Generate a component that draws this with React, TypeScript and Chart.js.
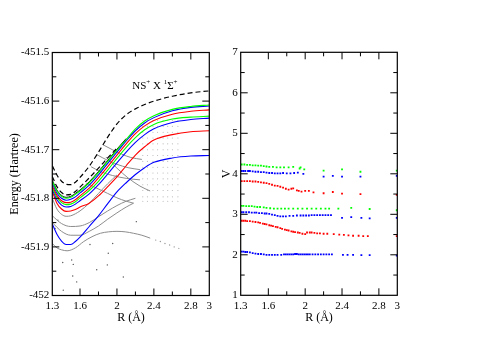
import React, { useEffect, useRef } from "react";
import { Chart, registerables } from "chart.js";
Chart.register(...registerables);

const W = 478;
const H = 338;
const FONT = "'Liberation Serif', 'Times New Roman', serif";

// ---------- Left panel: potential energy curves ----------
const R_GRID = [1.3, 1.35, 1.4, 1.45, 1.5, 1.55, 1.6, 1.7, 1.8, 1.9, 2.0, 2.1, 2.2, 2.3, 2.4, 2.6, 2.8, 3.0];
const ionUpper = [-451.733, -451.752, -451.765, -451.771, -451.772, -451.767, -451.757, -451.734, -451.705, -451.674, -451.647, -451.628, -451.616, -451.607, -451.600, -451.590, -451.583, -451.579];
const ionLower = [-451.755, -451.776, -451.788, -451.793, -451.792, -451.786, -451.777, -451.758, -451.738, -451.717, -451.697];
const blackSolid = [-451.763, -451.783, -451.794, -451.798, -451.796, -451.790, -451.783, -451.766, -451.745, -451.722, -451.699, -451.677];
const green1 = [-451.765, -451.785, -451.796, -451.800, -451.798, -451.792, -451.785, -451.768, -451.747, -451.724, -451.701, -451.679, -451.657, -451.641, -451.630, -451.617, -451.611, -451.608];
const blue1 = [-451.769, -451.789, -451.800, -451.804, -451.802, -451.797, -451.789, -451.773, -451.752, -451.728, -451.705, -451.682, -451.661, -451.645, -451.634, -451.620, -451.613, -451.610];
const red1 = [-451.774, -451.794, -451.805, -451.809, -451.808, -451.803, -451.795, -451.779, -451.758, -451.735, -451.711, -451.688, -451.667, -451.651, -451.640, -451.627, -451.621, -451.618];
const green2 = [-451.778, -451.798, -451.809, -451.813, -451.812, -451.807, -451.799, -451.784, -451.765, -451.742, -451.718, -451.695, -451.675, -451.659, -451.648, -451.637, -451.633, -451.631];
const blue2 = [-451.782, -451.803, -451.814, -451.818, -451.817, -451.812, -451.805, -451.791, -451.772, -451.750, -451.727, -451.705, -451.685, -451.669, -451.657, -451.644, -451.638, -451.635];
const red2 = [-451.786, -451.810, -451.822, -451.827, -451.826, -451.823, -451.818, -451.810, -451.795, -451.776, -451.756, -451.733, -451.711, -451.694, -451.680, -451.669, -451.663, -451.661];
const blue3 = [-451.853, -451.874, -451.888, -451.895, -451.895, -451.889, -451.880, -451.858, -451.836, -451.811, -451.787, -451.768, -451.751, -451.737, -451.726, -451.717, -451.713, -451.712];

const grayLow = [[1.3, -451.893], [1.35, -451.902], [1.4, -451.906], [1.46, -451.908], [1.55, -451.902], [1.64, -451.889], [1.73, -451.879], [1.82, -451.872], [1.91, -451.869], [2.0, -451.868], [2.09, -451.869], [2.18, -451.872], [2.27, -451.876], [2.36, -451.882]];
const grayLowTail = [[2.42, -451.886], [2.47, -451.889], [2.52, -451.893], [2.57, -451.896], [2.62, -451.900], [2.67, -451.903]];
const grayMidA = [[1.3, -451.836], [1.4, -451.852], [1.5, -451.858], [1.6, -451.857], [1.7, -451.850], [1.8, -451.838], [1.9, -451.826], [2.0, -451.815], [2.1, -451.806], [2.2, -451.800]];
const grayMidB = [[1.3, -451.850], [1.4, -451.868], [1.5, -451.876], [1.6, -451.876], [1.7, -451.868], [1.8, -451.857], [1.9, -451.843], [2.0, -451.830], [2.1, -451.818], [2.18, -451.810]];
const grayC = [[1.3, -451.800], [1.35, -451.822], [1.4, -451.833], [1.45, -451.837], [1.5, -451.836], [1.6, -451.826], [1.7, -451.810], [1.8, -451.790], [1.9, -451.770], [2.0, -451.752]];
const grayCross1 = [[1.67, -451.769], [1.78, -451.779], [1.9, -451.790], [2.0, -451.799], [2.1, -451.806], [2.18, -451.810]];
const grayCross2 = [[1.72, -451.735], [1.82, -451.745], [1.95, -451.753], [2.1, -451.759], [2.25, -451.762]];
const grayCross3 = [[1.78, -451.710], [1.9, -451.722], [2.0, -451.730], [2.12, -451.737], [2.25, -451.741]];
const grayCross4 = [[1.85, -451.690], [1.95, -451.700], [2.05, -451.709], [2.15, -451.716], [2.27, -451.720]];
const grayCross5 = [[1.88, -451.715], [2.0, -451.738], [2.12, -451.758], [2.25, -451.775], [2.36, -451.785]];
const DOT_R = [2.28, 2.33, 2.39, 2.44, 2.5, 2.55, 2.6, 2.66];
const DOT_E = [-451.640, -451.652, -451.664, -451.676, -451.688, -451.700, -451.712, -451.724, -451.736, -451.748, -451.760, -451.772, -451.784, -451.797, -451.806];
const scatterR = [1.413, 1.51, 1.527, 1.781, 1.906, 1.896, 1.954, 2.069, 2.21, 1.564, 1.419, 1.521, 1.708, 1.33, 1.36];
const scatterE = [-451.932, -451.927, -451.936, -451.947, -451.913, -451.937, -451.893, -451.962, -451.848, -451.972, -451.989, -451.960, -451.895, -451.862, -451.845];

const X_TICKS = [1.3, 1.6, 2.0, 2.4, 2.8, 3.0];
const X_LABELS = ["1.3", "1.6", "2", "2.4", "2.8", "3"];
const X_MAJOR = [1.6, 2.0, 2.4, 2.8];
const X_MINOR = [1.8, 2.2, 2.6];
const E_TICKS = [-452, -451.9, -451.8, -451.7, -451.6, -451.5];
const E_LABELS = ["-452", "-451.9", "-451.8", "-451.7", "-451.6", "-451.5"];
const E_MAJOR = [-451.9, -451.8, -451.7, -451.6];
const E_MINOR = [-451.95, -451.85, -451.75, -451.65, -451.55];
const ANNOT = { r: 2.165, e: -451.5745 };

// ---------- Right panel: V ----------
const vBlue1 = [[1.311, 2.08], [1.33, 2.08], [1.35, 2.07], [1.37, 2.07], [1.4, 2.06], [1.43, 2.04], [1.46, 2.03], [1.49, 2.02], [1.52, 2.02], [1.55, 2.01], [1.58, 2.0], [1.61, 2.0], [1.64, 2.0], [1.67, 2.0], [1.7, 2.0], [1.74, 2.0], [1.77, 2.01], [1.79, 2.01], [1.81, 2.01], [1.83, 2.01], [1.85, 2.01], [1.87, 2.01], [1.89, 2.02], [1.91, 2.02], [1.93, 2.01], [1.95, 2.01], [1.97, 2.01], [1.99, 2.01], [2.01, 2.01], [2.03, 2.01], [2.05, 2.01], [2.08, 2.01], [2.11, 2.01], [2.14, 2.01], [2.17, 2.01], [2.2, 2.01], [2.23, 2.01], [2.26, 2.01], [2.29, 2.01], [2.41, 2.0], [2.46, 2.0], [2.52, 2.0], [2.61, 1.99], [2.7, 1.99], [2.994, 1.98]];
const vRed1 = [[1.311, 2.84], [1.33, 2.84], [1.35, 2.84], [1.37, 2.83], [1.4, 2.83], [1.43, 2.82], [1.46, 2.81], [1.49, 2.8], [1.51, 2.79], [1.54, 2.77], [1.56, 2.76], [1.58, 2.75], [1.61, 2.73], [1.63, 2.72], [1.65, 2.71], [1.68, 2.69], [1.7, 2.68], [1.73, 2.66], [1.75, 2.64], [1.78, 2.62], [1.8, 2.61], [1.82, 2.6], [1.85, 2.58], [1.87, 2.57], [1.89, 2.56], [1.92, 2.55], [1.94, 2.54], [1.97, 2.52], [2.0, 2.51], [2.02, 2.55], [2.05, 2.55], [2.07, 2.55], [2.1, 2.54], [2.13, 2.53], [2.16, 2.53], [2.2, 2.52], [2.24, 2.52], [2.31, 2.51], [2.37, 2.5], [2.42, 2.49], [2.47, 2.48], [2.52, 2.47], [2.58, 2.47], [2.63, 2.46], [2.68, 2.46], [2.994, 2.46]];
const vBlue2 = [[1.311, 3.05], [1.33, 3.05], [1.36, 3.05], [1.39, 3.05], [1.42, 3.04], [1.45, 3.04], [1.47, 3.04], [1.5, 3.03], [1.53, 3.03], [1.56, 3.02], [1.58, 3.02], [1.61, 3.01], [1.64, 2.99], [1.67, 2.98], [1.7, 2.96], [1.73, 2.95], [1.76, 2.95], [1.79, 2.95], [1.83, 2.96], [1.87, 2.96], [1.91, 2.97], [1.95, 2.97], [1.98, 2.97], [2.01, 2.97], [2.04, 2.97], [2.07, 2.98], [2.1, 2.98], [2.13, 2.98], [2.16, 2.98], [2.19, 2.98], [2.22, 2.98], [2.25, 2.98], [2.28, 2.98], [2.4, 2.91], [2.5, 2.93], [2.61, 2.91], [2.7, 2.9], [2.994, 2.91]];
const vGreen1 = [[1.311, 3.21], [1.33, 3.21], [1.36, 3.2], [1.39, 3.2], [1.42, 3.2], [1.45, 3.19], [1.48, 3.18], [1.51, 3.18], [1.55, 3.17], [1.58, 3.16], [1.62, 3.15], [1.66, 3.14], [1.7, 3.14], [1.74, 3.14], [1.78, 3.14], [1.82, 3.14], [1.87, 3.14], [1.92, 3.14], [1.97, 3.14], [2.02, 3.14], [2.07, 3.14], [2.12, 3.14], [2.17, 3.14], [2.22, 3.14], [2.26, 3.14], [2.36, 3.14], [2.5, 3.16], [2.7, 3.13], [2.994, 3.1]];
const vRed2 = [[1.311, 3.82], [1.34, 3.82], [1.37, 3.82], [1.4, 3.82], [1.43, 3.81], [1.46, 3.81], [1.49, 3.8], [1.52, 3.79], [1.55, 3.78], [1.58, 3.77], [1.61, 3.75], [1.64, 3.73], [1.67, 3.71], [1.7, 3.7], [1.73, 3.68], [1.76, 3.66], [1.79, 3.63], [1.82, 3.61], [1.85, 3.63], [1.87, 3.64], [1.91, 3.59], [1.93, 3.58], [1.96, 3.56], [2.0, 3.58], [2.04, 3.58], [2.09, 3.54], [2.2, 3.52], [2.3, 3.55], [2.4, 3.51], [2.6, 3.5], [2.994, 3.48]];
const vBlue3 = [[1.311, 4.07], [1.33, 4.07], [1.35, 4.07], [1.38, 4.07], [1.4, 4.07], [1.43, 4.06], [1.46, 4.05], [1.49, 4.05], [1.52, 4.04], [1.55, 4.04], [1.58, 4.03], [1.61, 4.02], [1.64, 4.02], [1.67, 4.01], [1.7, 4.01], [1.73, 4.01], [1.76, 4.02], [1.8, 4.01], [1.84, 4.01], [1.88, 4.02], [1.92, 4.03], [1.98, 4.0], [2.2, 3.93], [2.3, 3.95], [2.4, 3.93], [2.6, 3.93], [2.994, 3.95]];
const vGreen2 = [[1.311, 4.23], [1.34, 4.23], [1.37, 4.22], [1.4, 4.22], [1.43, 4.21], [1.46, 4.21], [1.49, 4.2], [1.52, 4.2], [1.55, 4.19], [1.58, 4.18], [1.61, 4.17], [1.65, 4.17], [1.69, 4.16], [1.73, 4.16], [1.77, 4.16], [1.82, 4.16], [1.87, 4.17], [1.94, 4.13], [1.95, 4.16], [1.99, 4.11], [2.2, 4.08], [2.4, 4.11], [2.6, 4.05], [2.994, 4.08]];

const V_TICKS = [1, 2, 3, 4, 5, 6, 7];
const V_LABELS = ["1", "2", "3", "4", "5", "6", "7"];
const V_MAJOR = [2, 3, 4, 5, 6];
const V_MINOR = [1.5, 2.5, 3.5, 4.5, 5.5, 6.5];

const GREEN = "#00ff00";
const BLUE = "#0000ff";
const RED = "#ff0000";
const GRAY = "#8c8c8c";

type Run = [string, number, number];
type TextSpec = { x: number; y: number; rot?: number; runs: Run[]; data?: boolean };

function drawText(ctx: CanvasRenderingContext2D, chart: any, t: TextSpec) {
  let x = t.x;
  let y = t.y;
  if (t.data) {
    x = chart.scales.x.getPixelForValue(t.x);
    y = chart.scales.y.getPixelForValue(t.y);
  }
  ctx.save();
  ctx.translate(x, y);
  if (t.rot) ctx.rotate(t.rot);
  ctx.fillStyle = "#000";
  ctx.textBaseline = "alphabetic";
  ctx.textAlign = "left";
  let total = 0;
  for (const [s, size] of t.runs) {
    ctx.font = `${size}px ${FONT}`;
    total += ctx.measureText(s).width;
  }
  let cx = t.data ? 0 : -total / 2;
  for (const [s, size, dy] of t.runs) {
    ctx.font = `${size}px ${FONT}`;
    ctx.fillText(s, cx, dy);
    cx += ctx.measureText(s).width;
  }
  ctx.restore();
}

const framePlugin = {
  id: "frame",
  afterDraw(chart: any, _args: any, o: any) {
    const { ctx, chartArea: a } = chart;
    const xs = chart.scales.x;
    const ys = chart.scales.y;
    ctx.save();
    ctx.strokeStyle = "#000";
    ctx.lineWidth = 1.2;
    ctx.strokeRect(a.left, a.top, a.right - a.left, a.bottom - a.top);
    ctx.lineWidth = 1;
    ctx.beginPath();
    const xt = (vals: number[], len: number) =>
      vals.forEach((v) => {
        const p = xs.getPixelForValue(v);
        ctx.moveTo(p, a.bottom);
        ctx.lineTo(p, a.bottom - len);
        ctx.moveTo(p, a.top);
        ctx.lineTo(p, a.top + len);
      });
    const yt = (vals: number[], len: number) =>
      vals.forEach((v) => {
        const p = ys.getPixelForValue(v);
        ctx.moveTo(a.left, p);
        ctx.lineTo(a.left + len, p);
        ctx.moveTo(a.right, p);
        ctx.lineTo(a.right - len, p);
      });
    xt(o.xMajor, 7);
    xt(o.xMinor, 4);
    yt(o.yMajor, 7);
    yt(o.yMinor, 4);
    ctx.stroke();
    ctx.restore();
    for (const t of o.texts) drawText(ctx, chart, t);
  },
};

const toPts = (arr: number[][]) => arr.map(([x, y]) => ({ x, y }));
const gridCurve = (ys: number[], color: string, width = 1.1, dash: number[] = []) => ({
  data: ys.map((y, i) => ({ x: R_GRID[i], y })),
  showLine: true,
  borderColor: color,
  borderWidth: width,
  borderDash: dash,
  pointRadius: 0,
  cubicInterpolationMode: "monotone",
  fill: false,
});
const pairCurve = (arr: number[][], color: string, width = 1) => ({
  data: toPts(arr),
  showLine: true,
  borderColor: color,
  borderWidth: width,
  pointRadius: 0,
  cubicInterpolationMode: "monotone",
  fill: false,
});
const dots = (pts: { x: number; y: number }[], color: string, r: number, style = "circle") => ({
  data: pts,
  showLine: false,
  pointRadius: r,
  pointStyle: style,
  pointBackgroundColor: color,
  pointBorderWidth: 0,
  borderColor: color,
  backgroundColor: color,
});

function axes(xW: { y: number; x: number }, yMin: number, yMax: number, yTicks: number[], yLabels: string[]) {
  const tickFont = { family: FONT, size: 11 };
  return {
    x: {
      type: "linear",
      min: 1.3,
      max: 3.0,
      grid: { display: false, drawTicks: false },
      border: { display: false },
      afterFit: (s: any) => {
        s.height = xW.x;
      },
      afterBuildTicks: (s: any) => {
        s.ticks = X_TICKS.map((v) => ({ value: v }));
      },
      ticks: {
        autoSkip: false,
        maxRotation: 0,
        padding: 4,
        color: "#000",
        font: tickFont,
        callback: (_v: any, i: number) => X_LABELS[i],
      },
    },
    y: {
      type: "linear",
      min: yMin,
      max: yMax,
      grid: { display: false, drawTicks: false },
      border: { display: false },
      afterFit: (s: any) => {
        s.width = xW.y;
      },
      afterBuildTicks: (s: any) => {
        s.ticks = yTicks.map((v) => ({ value: v }));
      },
      ticks: {
        autoSkip: false,
        padding: 3,
        color: "#000",
        font: tickFont,
        callback: (_v: any, i: number) => yLabels[i],
      },
    },
  };
}

function leftConfig(): any {
  const dotGrid: { x: number; y: number }[] = [];
  DOT_E.forEach((e) => DOT_R.forEach((r) => dotGrid.push({ x: r, y: e })));
  return {
    type: "scatter",
    data: {
      datasets: [
        gridCurve(ionUpper, "#000", 1.2, [5, 3]),
        gridCurve(green1, GREEN),
        gridCurve(blackSolid, "#000", 1),
        gridCurve(blue1, BLUE),
        gridCurve(red1, RED),
        gridCurve(green2, GREEN),
        gridCurve(blue2, BLUE),
        gridCurve(red2, RED),
        gridCurve(blue3, BLUE),
        gridCurve(ionLower, "#000", 1.2, [5, 3]),
        pairCurve(grayLow, GRAY),
        pairCurve(grayMidA, GRAY),
        pairCurve(grayMidB, GRAY),
        pairCurve(grayC, GRAY),
        pairCurve(grayCross1, GRAY),
        pairCurve(grayCross2, GRAY),
        pairCurve(grayCross3, GRAY),
        pairCurve(grayCross4, GRAY),
        pairCurve(grayCross5, GRAY),
        dots(toPts(grayLowTail), "#999", 0.7),
        dots(dotGrid, "#b0b0b0", 0.55),
        dots(scatterR.map((x, i) => ({ x, y: scatterE[i] })), "#555", 0.7),
      ],
    },
    options: {
      responsive: false,
      animation: false,
      devicePixelRatio: 1,
      events: [],
      layout: { padding: { left: 0, top: 52.5, right: W - 209.3, bottom: 0 } },
      plugins: {
        legend: { display: false },
        tooltip: { enabled: false },
        frame: {
          xMajor: X_MAJOR,
          xMinor: X_MINOR,
          yMajor: E_MAJOR,
          yMinor: E_MINOR,
          texts: [
            { x: 18, y: 174, rot: -Math.PI / 2, runs: [["Energy (Hartree)", 12, 0]] },
            { x: 131, y: 320.5, runs: [["R (Å)", 12, 0]] },
            {
              x: ANNOT.r,
              y: ANNOT.e,
              data: true,
              runs: [
                ["NS", 11, 0],
                ["+", 7, -5],
                [" X ", 11, 0],
                ["1", 7, -5],
                ["Σ", 11, 0],
                ["+", 7, -5],
              ],
            },
          ],
        },
      },
      scales: axes({ y: 52.3, x: 42.5 }, -452, -451.5, E_TICKS, E_LABELS),
    },
    plugins: [framePlugin],
  };
}

function rightConfig(): any {
  return {
    type: "scatter",
    data: {
      datasets: [
        dots(toPts(vGreen2), GREEN, 1.3, "rect"),
        dots(toPts(vBlue3), BLUE, 1.3, "rect"),
        dots(toPts(vRed2), RED, 1.3, "rect"),
        dots(toPts(vGreen1), GREEN, 1.3, "rect"),
        dots(toPts(vBlue2), BLUE, 1.3, "rect"),
        dots(toPts(vRed1), RED, 1.3, "rect"),
        dots(toPts(vBlue1), BLUE, 1.3, "rect"),
      ],
    },
    options: {
      responsive: false,
      animation: false,
      devicePixelRatio: 1,
      events: [],
      layout: { padding: { left: 0, top: 52.3, right: W - 397.3, bottom: 0 } },
      plugins: {
        legend: { display: false },
        tooltip: { enabled: false },
        frame: {
          xMajor: X_MAJOR,
          xMinor: X_MINOR,
          yMajor: V_MAJOR,
          yMinor: V_MINOR,
          texts: [
            { x: 230, y: 174, rot: -Math.PI / 2, runs: [["V", 12, 0]] },
            { x: 319, y: 320.5, runs: [["R (Å)", 12, 0]] },
          ],
        },
      },
      scales: axes({ y: 240.7, x: 42.7 }, 1, 7, V_TICKS, V_LABELS),
    },
    plugins: [framePlugin],
  };
}

export default function App() {
  const leftRef = useRef<HTMLCanvasElement>(null);
  const rightRef = useRef<HTMLCanvasElement>(null);
  useEffect(() => {
    const l = new Chart(leftRef.current as HTMLCanvasElement, leftConfig());
    const r = new Chart(rightRef.current as HTMLCanvasElement, rightConfig());
    return () => {
      l.destroy();
      r.destroy();
    };
  }, []);
  return (
    <div style={{ position: "absolute", left: 0, top: 0, width: W, height: H, background: "#fff" }}>
      <canvas ref={leftRef} width={W} height={H} style={{ position: "absolute", left: 0, top: 0 }} />
      <canvas ref={rightRef} width={W} height={H} style={{ position: "absolute", left: 0, top: 0 }} />
    </div>
  );
}
